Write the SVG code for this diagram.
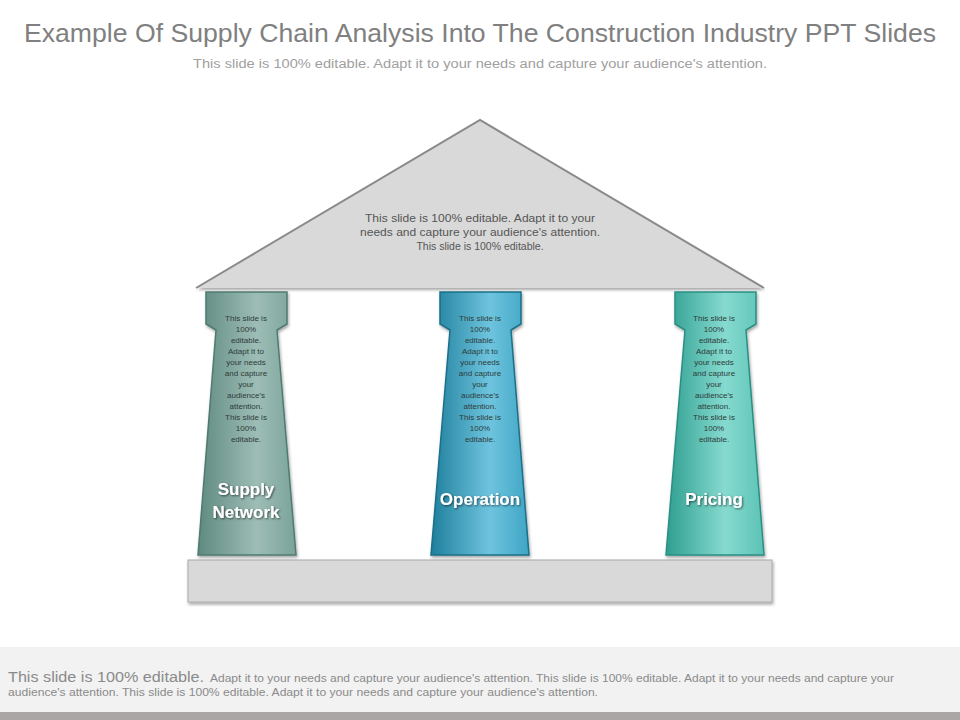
<svg xmlns="http://www.w3.org/2000/svg" width="960" height="720" viewBox="0 0 960 720">
<style>
text{font-family:"Liberation Sans",Arial,sans-serif}
.ptxt{font-size:8px;fill:#2e3b3a;text-anchor:middle}
.lbl{font-size:17px;font-weight:bold;fill:#fff;text-anchor:middle;filter:url(#ts)}
</style>
<defs>
<linearGradient id="g1" x1="0" x2="1"><stop offset="0" stop-color="#5f8a80"/><stop offset="0.6" stop-color="#9dbdb5"/><stop offset="1" stop-color="#7aa399"/></linearGradient>
<linearGradient id="g2" x1="0" x2="1"><stop offset="0" stop-color="#1f7f9c"/><stop offset="0.6" stop-color="#6ec4de"/><stop offset="1" stop-color="#3fa5c4"/></linearGradient>
<linearGradient id="g3" x1="0" x2="1"><stop offset="0" stop-color="#2e9e90"/><stop offset="0.6" stop-color="#86dacf"/><stop offset="1" stop-color="#5cc3b6"/></linearGradient>
<filter id="sh"><feDropShadow dx="1" dy="2" stdDeviation="1.5" flood-opacity="0.35"/></filter>
<filter id="ts"><feDropShadow dx="1" dy="1" stdDeviation="0.8" flood-color="#000" flood-opacity="0.6"/></filter>
</defs>
<rect width="960" height="720" fill="#fff"/>
<text x="480" y="42" font-size="26" fill="#808080" text-anchor="middle" textLength="912" lengthAdjust="spacingAndGlyphs">Example Of Supply Chain Analysis Into The Construction Industry PPT Slides</text>
<text x="480" y="68" font-size="12" fill="#a0a0a0" text-anchor="middle" textLength="574" lengthAdjust="spacingAndGlyphs">This slide is 100% editable. Adapt it to your needs and capture your audience's attention.</text>
<g id="roof">
<polygon points="480,120 196,288 764,288" fill="#d9d9d9" filter="url(#sh)"/>
<polyline points="196,288 480,120 764,288" fill="none" stroke="#8a8a8a" stroke-width="2"/>
<text x="480" y="222" font-size="10.5" fill="#555" text-anchor="middle" textLength="230" lengthAdjust="spacingAndGlyphs">This slide is 100% editable. Adapt it to your</text>
<text x="480" y="236" font-size="10.5" fill="#555" text-anchor="middle" textLength="240" lengthAdjust="spacingAndGlyphs">needs and capture your audience's attention.</text>
<text x="480" y="250" font-size="10.5" fill="#555" text-anchor="middle">This slide is 100% editable.</text>
</g>
<g id="base"><rect x="188" y="560" width="584" height="42" fill="#d9d9d9" stroke="#aaa" filter="url(#sh)"/></g>
<g id="pillar1">
<path d="M206,292 H287 V324 L277,330 L296,555 H198 L216,330 L206,324 Z" fill="url(#g1)" stroke="#4f7a70" stroke-width="1.5" filter="url(#sh)"/>
<g class="ptxt"><text x="246" y="321">This slide is</text><text x="246" y="332">100%</text><text x="246" y="343">editable.</text><text x="246" y="354">Adapt it to</text><text x="246" y="365">your needs</text><text x="246" y="376">and capture</text><text x="246" y="387">your</text><text x="246" y="398">audience's</text><text x="246" y="409">attention.</text><text x="246" y="420">This slide is</text><text x="246" y="431">100%</text><text x="246" y="442">editable.</text></g>
<text class="lbl" x="246" y="495">Supply</text><text class="lbl" x="246" y="518">Network</text>
</g>
<g id="pillar2">
<path d="M440,292 H521 V324 L511,330 L529,555 H431 L450,330 L440,324 Z" fill="url(#g2)" stroke="#1a6f88" stroke-width="1.5" filter="url(#sh)"/>
<g class="ptxt"><text x="480" y="321">This slide is</text><text x="480" y="332">100%</text><text x="480" y="343">editable.</text><text x="480" y="354">Adapt it to</text><text x="480" y="365">your needs</text><text x="480" y="376">and capture</text><text x="480" y="387">your</text><text x="480" y="398">audience's</text><text x="480" y="409">attention.</text><text x="480" y="420">This slide is</text><text x="480" y="431">100%</text><text x="480" y="442">editable.</text></g>
<text class="lbl" x="480" y="505">Operation</text>
</g>
<g id="pillar3">
<path d="M675,292 H756 V324 L746,330 L764,555 H666 L685,330 L675,324 Z" fill="url(#g3)" stroke="#2a8f82" stroke-width="1.5" filter="url(#sh)"/>
<g class="ptxt"><text x="714" y="321">This slide is</text><text x="714" y="332">100%</text><text x="714" y="343">editable.</text><text x="714" y="354">Adapt it to</text><text x="714" y="365">your needs</text><text x="714" y="376">and capture</text><text x="714" y="387">your</text><text x="714" y="398">audience's</text><text x="714" y="409">attention.</text><text x="714" y="420">This slide is</text><text x="714" y="431">100%</text><text x="714" y="442">editable.</text></g>
<text class="lbl" x="714" y="505">Pricing</text>
</g>
<g id="connectors"/>
<rect x="0" y="647" width="960" height="65" fill="#f2f2f2"/>
<rect x="0" y="712" width="960" height="8" fill="#aaa6a6"/>
<text x="8" y="682" fill="#8a8a8a" font-size="14" textLength="196" lengthAdjust="spacingAndGlyphs">This slide is 100% editable.</text>
<text x="210" y="682" fill="#8a8a8a" font-size="10.5" textLength="684" lengthAdjust="spacingAndGlyphs">Adapt it to your needs and capture your audience's attention. This slide is 100% editable. Adapt it to your needs and capture your</text>
<text x="8" y="696" font-size="10.5" fill="#8a8a8a" textLength="590" lengthAdjust="spacingAndGlyphs">audience's attention. This slide is 100% editable. Adapt it to your needs and capture your audience's attention.</text>
</svg>
